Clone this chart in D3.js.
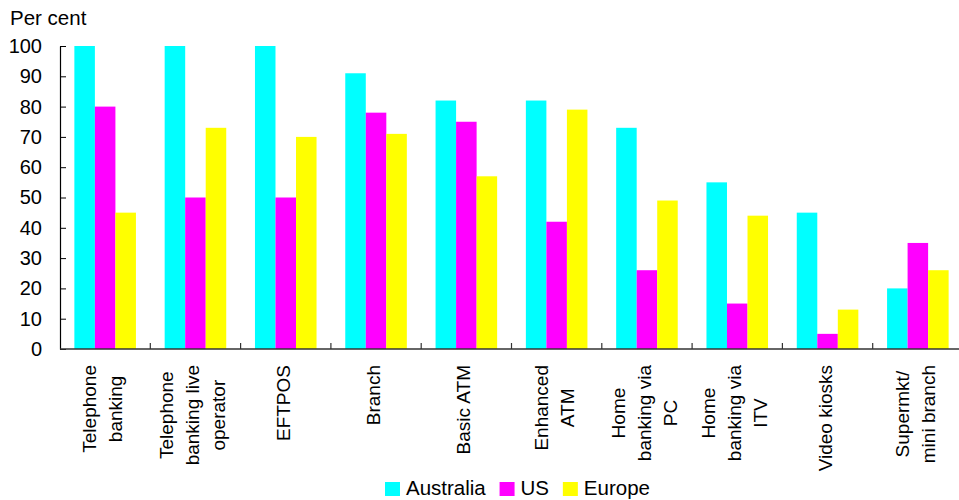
<!DOCTYPE html>
<html>
<head>
<meta charset="utf-8">
<script src="https://cdn.jsdelivr.net/npm/d3@7"></script>
<style>
  html, body { margin: 0; padding: 0; background: #fff; }
  svg { display: block; font-family: "Liberation Sans", Arial, sans-serif; }
</style>
</head>
<body>
<svg id="chart" width="959" height="500"></svg>
<script>
// Delivery channels and share of banks offering each one
const categories = [
  ["Telephone", "banking"],
  ["Telephone", "banking live", "operator"],
  ["EFTPOS"],
  ["Branch"],
  ["Basic ATM"],
  ["Enhanced", "ATM"],
  ["Home", "banking via", "PC"],
  ["Home", "banking via", "ITV"],
  ["Video kiosks"],
  ["Supermkt/", "mini branch"]
];
const seriesNames = ["Australia", "US", "Europe"];
const seriesColors = ["#00FFFF", "#FF00FF", "#FFFF00"];
const australia = [100, 100, 100, 91, 82, 82, 73, 55, 45, 20];
const us        = [80, 50, 50, 78, 75, 42, 26, 15, 5, 35];
const europe    = [45, 73, 70, 71, 57, 79, 49, 44, 13, 26];
const yTicks = [0, 10, 20, 30, 40, 50, 60, 70, 80, 90, 100];
const yTitle = "Per cent";

const values = [australia, us, europe];
const svg = d3.select("#chart");

const plotLeft = 60, plotRight = 963, plotTop = 46, plotBottom = 349;

const x0 = d3.scaleBand()
  .domain(d3.range(categories.length))
  .range([plotLeft, plotRight])
  .paddingInner(0)
  .paddingOuter(0);

const x1 = d3.scaleBand()
  .domain(d3.range(seriesNames.length))
  .range([0, x0.bandwidth()])
  .paddingInner(0)
  .paddingOuter(0.7);

const y = d3.scaleLinear().domain([0, 100]).range([plotBottom, plotTop]);

// Bars
categories.forEach((c, i) => {
  const g = svg.append("g").attr("transform", `translate(${x0(i)},0)`);
  g.selectAll("rect")
    .data(seriesNames.map((s, j) => ({ j, v: values[j][i] })))
    .join("rect")
    .attr("x", d => x1(d.j))
    .attr("width", x1.bandwidth())
    .attr("y", d => y(d.v))
    .attr("height", d => y(0) - y(d.v))
    .attr("fill", d => seriesColors[d.j]);
});

// Y axis with inward ticks
const yAxis = svg.append("g")
  .attr("transform", `translate(${plotLeft},0)`)
  .call(d3.axisLeft(y).tickValues(yTicks).tickSize(-6).tickSizeOuter(0).tickPadding(18));
yAxis.select(".domain").attr("stroke", "#000").attr("stroke-width", 1.2);
yAxis.selectAll(".tick line").attr("stroke", "#000");
yAxis.selectAll(".tick text")
  .attr("font-size", 20)
  .attr("fill", "#000")
  .attr("font-family", "Liberation Sans, Arial, sans-serif");

// X axis baseline and category separators
svg.append("line")
  .attr("x1", plotLeft).attr("x2", plotRight)
  .attr("y1", y(0)).attr("y2", y(0))
  .attr("stroke", "#333").attr("stroke-width", 1.5);
svg.selectAll(".xsep")
  .data(d3.range(1, categories.length))
  .join("line")
  .attr("class", "xsep")
  .attr("x1", d => x0(d)).attr("x2", d => x0(d))
  .attr("y1", y(0)).attr("y2", y(0) - 6)
  .attr("stroke", "#333").attr("stroke-width", 1.2);

// Y title
svg.append("text")
  .attr("x", 10).attr("y", 25)
  .attr("font-size", 20.5)
  .attr("fill", "#000")
  .text(yTitle);

// Rotated multi-line category labels, top-aligned below the axis
const labelTop = 365;
const lineGap = 26;
categories.forEach((lines, i) => {
  const cx = x0(i) + x0.bandwidth() / 2;
  const g = svg.append("g").attr("transform", "rotate(-90)");
  const texts = lines.map((ln, k) => g.append("text")
    .attr("font-size", 19)
    .attr("fill", "#000")
    .attr("text-anchor", "middle")
    .attr("y", cx + 4 + (k - (lines.length - 1) / 2) * lineGap)
    .text(ln));
  const w = d3.max(texts, t => t.node().getComputedTextLength());
  texts.forEach(t => t.attr("x", -(labelTop + w / 2)));
});

// Legend
let lx = 385;
const ly = 482;
seriesNames.forEach((name, j) => {
  svg.append("rect")
    .attr("x", lx).attr("y", ly)
    .attr("width", 15).attr("height", 14)
    .attr("fill", seriesColors[j]);
  const t = svg.append("text")
    .attr("x", lx + 21).attr("y", ly + 13)
    .attr("font-size", 20.5)
    .attr("fill", "#000")
    .text(name);
  lx = lx + 21 + t.node().getComputedTextLength() + 13.8;
});
</script>
</body>
</html>
